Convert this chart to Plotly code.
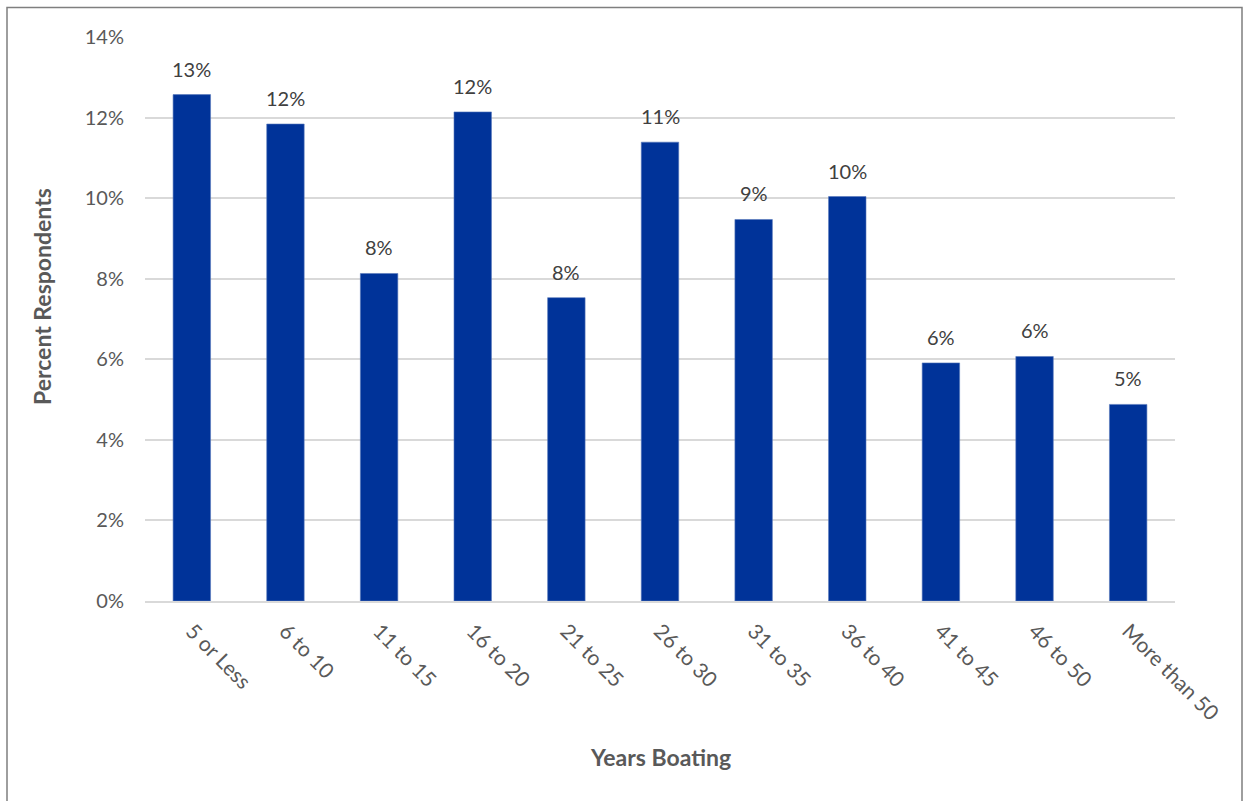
import plotly.graph_objects as go

categories = ["5 or Less", "6 to 10", "11 to 15", "16 to 20", "21 to 25", "26 to 30",
              "31 to 35", "36 to 40", "41 to 45", "46 to 50", "More than 50"]
values = [0.1257, 0.1184, 0.0813, 0.1214, 0.0753, 0.1139,
          0.0947, 0.1004, 0.0591, 0.0607, 0.0488]
y_ticks = [0, 0.02, 0.04, 0.06, 0.08, 0.10, 0.12, 0.14]
y_tick_text = ["0%", "2%", "4%", "6%", "8%", "10%", "12%", "14%"]
x_title = "Years Boating"
y_title = "Percent Respondents"

FONT = "Lato, 'Open Sans', sans-serif"

fig = go.Figure()
fig.add_trace(go.Bar(
    x=categories, y=values,
    marker=dict(color="#003399", line=dict(color="#5577bb", width=0.6)),
    hoverinfo="skip",
))

for c, v in zip(categories, values):
    fig.add_annotation(x=c, y=v, text=f"{round(v*100):d}%", showarrow=False,
                       yanchor="bottom", yshift=12,
                       font=dict(family=FONT, size=20, color="#404040"))

# axis titles
fig.add_annotation(xref="paper", yref="paper", x=0.5, y=-0.276, text=f"<b>{x_title}</b>",
                   showarrow=False, xanchor="center", yanchor="middle",
                   font=dict(family=FONT, size=23, color="#595959"))
fig.add_annotation(xref="paper", yref="paper", x=-0.1, y=0.539, text=f"<b>{y_title}</b>",
                   showarrow=False, textangle=-90, xanchor="center", yanchor="middle",
                   font=dict(family=FONT, size=23, color="#595959"))

# outer border (bottom edge lies below the visible page)
W, H = 1244, 801
L, R, T, B = 145, 69, 36.5, 200
pw, ph = W - L - R, H - T - B
fig.add_shape(type="rect", xref="paper", yref="paper",
              x0=(7 - L) / pw, x1=(1242 - L) / pw,
              y0=(H - B - 812) / ph, y1=(H - B - 7) / ph,
              line=dict(color="#7f7f7f", width=1.5), fillcolor="rgba(0,0,0,0)", layer="below")

fig.update_layout(
    width=W, height=H,
    margin=dict(l=L, r=R, t=T, b=B),
    paper_bgcolor="white", plot_bgcolor="white",
    bargap=0.6,
    showlegend=False,
    font=dict(family=FONT, color="#595959"),
)
fig.update_xaxes(
    tickangle=45, tickfont=dict(family=FONT, size=21, color="#595959"),
    showline=True, linecolor="#d9d9d9", linewidth=1.5,
    showgrid=False, ticks="", ticklabelstandoff=8,
)
fig.update_yaxes(
    range=[0, 0.14], tickvals=y_ticks, ticktext=y_tick_text,
    tickfont=dict(family=FONT, size=20, color="#595959"),
    showgrid=True, gridcolor="#d9d9d9", gridwidth=1.5,
    zeroline=False, showline=False, ticks="", ticklabelstandoff=20,
)

fig.write_html("out.html", config={"displayModeBar": False},
               post_script="document.body.style.margin='0';document.body.style.overflow='hidden';")
